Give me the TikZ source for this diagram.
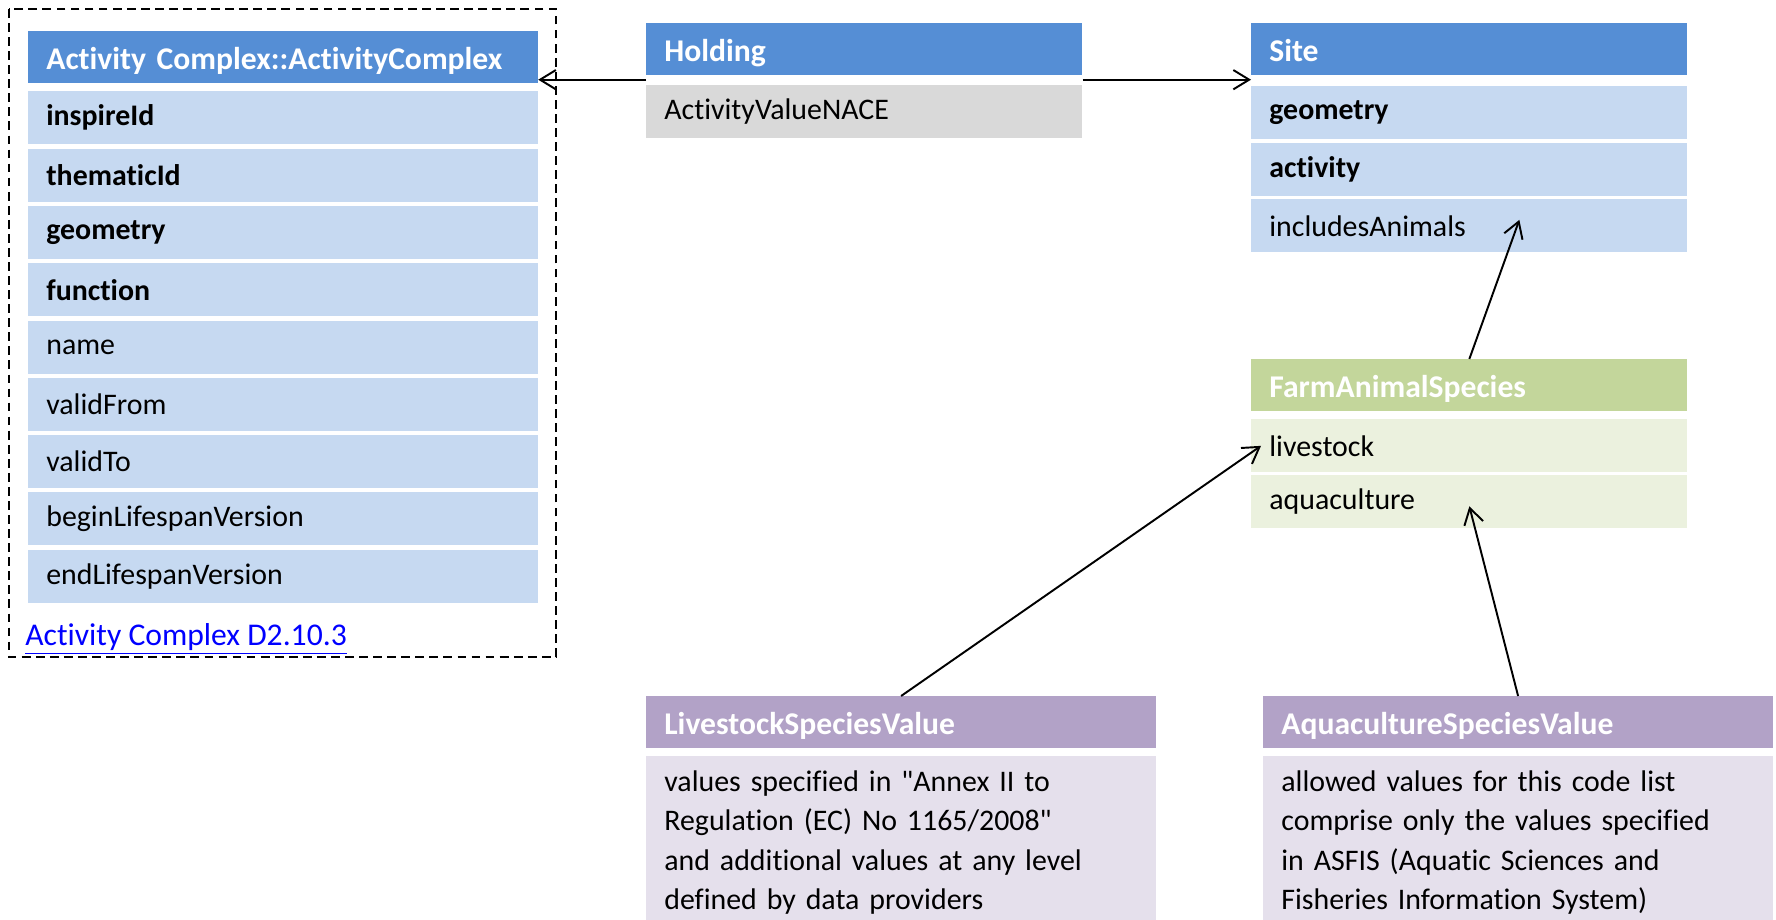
\documentclass[tikz,border=0pt]{standalone}
\usepackage{fontspec}
\setmainfont{Carlito}[Ligatures={NoCommon,TeXOff}]
\usepackage{tikz}
\usetikzlibrary{arrows.meta}

\definecolor{headblue}{RGB}{85,142,213}
\definecolor{rowblue}{RGB}{198,217,241}
\definecolor{rowgrey}{RGB}{217,217,217}
\definecolor{headgreen}{RGB}{195,214,155}
\definecolor{rowgreen}{RGB}{235,241,222}
\definecolor{headpurple}{RGB}{178,162,199}
\definecolor{rowpurple}{RGB}{229,224,236}
\definecolor{linkblue}{RGB}{0,0,255}

\begin{document}
\begin{tikzpicture}[
  box/.style={rectangle, anchor=north west, inner xsep=0.36cm, inner ysep=0pt, align=left, font=\fontsize{17}{20}\selectfont},
  head/.style={box, text=white, font=\fontsize{18}{21}\selectfont\bfseries, text height=15pt, text depth=1.5pt, minimum height=1.04cm},
  row/.style={box, minimum height=1.06cm},
  note/.style={box, inner ysep=0.28cm, font=\fontsize{17}{22.5}\selectfont},
  wide/.style={text width=9.47cm},
  narrow/.style={text width=8cm},
  arr/.style={-{Straight Barb[length=9pt,width=11pt]}, line width=1.1pt}
]
\useasboundingbox (0,0) rectangle (35.52,-18.4);

% Activity Complex
\draw[dash pattern=on 5pt off 3pt, line width=1.1pt] (0.18,-0.18) rectangle (11.12,-13.14);
\node[head, wide, fill=headblue] (ac) at (0.56,-0.62) {Activity Complex::ActivityComplex};
\foreach \txt [count=\i] in {\textbf{inspireId},\textbf{thematicId},\textbf{geometry},\textbf{function},name,validFrom,validTo,beginLifespanVersion,endLifespanVersion}
{
\node[row, wide, fill=rowblue] (ac-\i) at (0.56,{-1.82-1.146*(\i-1)}) {\txt};
}
\node[anchor=west, inner sep=0pt, text=linkblue, font=\fontsize{18}{21}\selectfont] (link) at (0.5,-12.78) {\underline{Activity Complex D2.10.3}};

% Holding
\node[head, narrow, fill=headblue] (hold) at (12.92,-0.46) {Holding};
\node[row, narrow, fill=rowgrey] (hold-1) at (12.92,-1.69) {ActivityValueNACE};

% Site
\node[head, narrow, fill=headblue] (site) at (25.02,-0.46) {Site};
\foreach \txt [count=\i] in {\textbf{geometry},\textbf{activity},includesAnimals}
{
\node[row, narrow, fill=rowblue] (site-\i) at (25.02,{-1.72-1.13*(\i-1)}) {\txt};
}

% FarmAnimalSpecies
\node[head, narrow, fill=headgreen] (fas) at (25.02,-7.18) {FarmAnimalSpecies};
\node[row, narrow, fill=rowgreen] (fas-1) at (25.02,-8.38) {livestock};
\node[row, narrow, fill=rowgreen] (fas-2) at (25.02,-9.50) {aquaculture};

% code lists
\node[head, wide, fill=headpurple] (lsv) at (12.92,-13.92) {LivestockSpeciesValue};
\node[note, wide, fill=rowpurple] (lsv-1) at (12.92,-15.12) {values specified in "Annex II to\\Regulation (EC) No 1165/2008"\\and additional values at any level\\defined by data providers};
\node[head, wide, fill=headpurple] (asv) at (25.26,-13.92) {AquacultureSpeciesValue};
\node[note, wide, fill=rowpurple] (asv-1) at (25.26,-15.12) {allowed values for this code list\\comprise only the values specified\\in ASFIS (Aquatic Sciences and\\Fisheries Information System)};

% associations
\coordinate (hl) at ([yshift=-0.08cm]hold.south west);
\coordinate (hr) at ([yshift=-0.08cm]hold.south east);
\draw[arr] (hl) -- (hl -| ac.east);
\draw[arr] (hr) -- (hr -| site.west);
\draw[arr] (fas.north) -- ([xshift=1cm,yshift=0.12cm]site-3.center);
\draw[arr] (lsv.north) -- ([xshift=0.2cm]fas-1.west);
\draw[arr] (asv.north) -- ([yshift=-0.09cm]fas-2.center);

\end{tikzpicture}
\end{document}
